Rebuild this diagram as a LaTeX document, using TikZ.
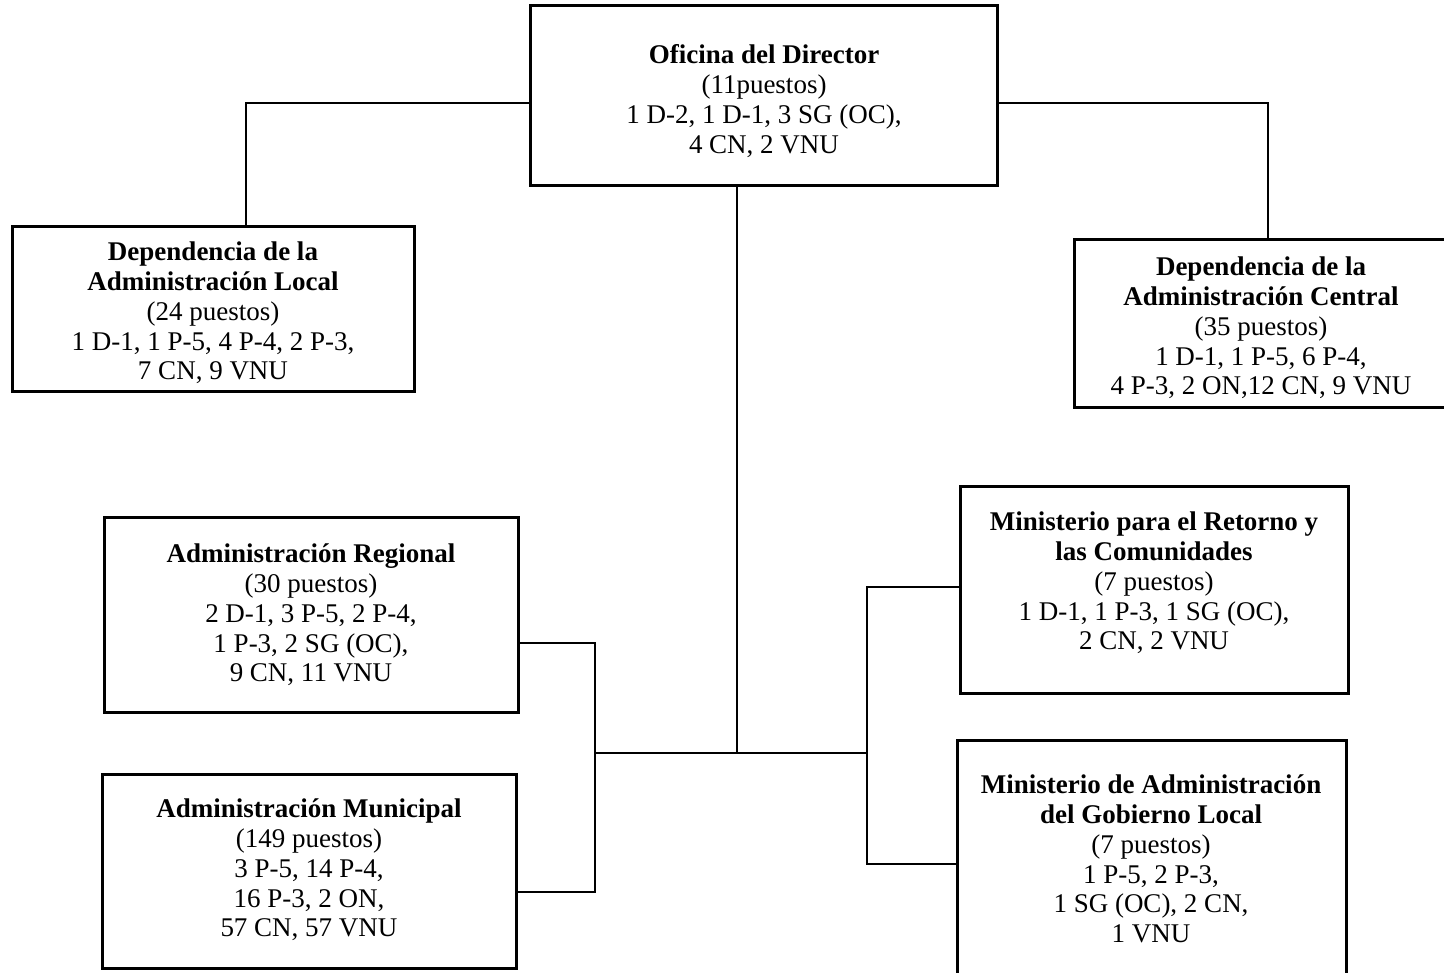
\documentclass[tikz,border=0pt]{standalone}
\usepackage{fontspec}
\setmainfont{Liberation Serif}
\usetikzlibrary{calc}
\begin{document}
\begin{tikzpicture}[x=1pt,y=-1pt,
  box/.style={draw=black, line width=3pt, rectangle, inner sep=0pt},
  txt/.style={align=center, inner sep=0pt, font=\fontsize{27}{29.8}\selectfont},
  conn/.style={draw=black, line width=1.5pt}]
\useasboundingbox (0,0) rectangle (1444,973);
% boxes
\node[box, minimum width=467, minimum height=180] (dir) at (763.5,96) {};
\node[box, minimum width=402, minimum height=165] (local) at (213,309.5) {};
\node[box, minimum width=374, minimum height=168] (central) at (1261,324) {};
\node[box, minimum width=414, minimum height=194] (reg) at (311,615) {};
\node[box, minimum width=414, minimum height=194] (mun) at (309,871) {};
\node[box, minimum width=388, minimum height=206] (ret) at (1154,590) {};
\node[box, minimum width=389, minimum height=236] (gob) at (1151.5,858) {};
% texts
\node[txt] (tdir) at (764,101) {\textbf{Oficina del Director}\\(11puestos)\\1 D-2, 1 D-1, 3 SG (OC),\\4 CN, 2 VNU};
\node[txt] (tlocal) at (213,313) {\textbf{Dependencia de la}\\\textbf{Administración Local}\\(24 puestos)\\1 D-1, 1 P-5, 4 P-4, 2 P-3,\\7 CN, 9 VNU};
\node[txt] (tcentral) at (1261,328) {\textbf{Dependencia de la}\\\textbf{Administración Central}\\(35 puestos)\\1 D-1, 1 P-5, 6 P-4,\\4 P-3, 2 ON,12 CN, 9 VNU};
\node[txt] (treg) at (311,615) {\textbf{Administración Regional}\\(30 puestos)\\2 D-1, 3 P-5, 2 P-4,\\1 P-3, 2 SG (OC),\\9 CN, 11 VNU};
\node[txt] (tmun) at (309,870) {\textbf{Administración Municipal}\\(149 puestos)\\3 P-5, 14 P-4,\\16 P-3, 2 ON,\\57 CN, 57 VNU};
\node[txt] (tret) at (1154,583) {\textbf{Ministerio para el Retorno y}\\\textbf{las Comunidades}\\(7 puestos)\\1 D-1, 1 P-3, 1 SG (OC),\\2 CN, 2 VNU};
\node[txt] (tgob) at (1151,859) {\textbf{Ministerio de Administración}\\\textbf{del Gobierno Local}\\(7 puestos)\\1 P-5, 2 P-3,\\1 SG (OC), 2 CN,\\1 VNU};
% junctions
\coordinate (hub) at (737,753);
\coordinate (jl) at (595,753);
\coordinate (jr) at (867,753);
% connectors
\draw[conn] (dir.west |- 0,103) -| (local.north -| 246,0);
\draw[conn] (dir.east |- 0,103) -| (central.north -| 1268,0);
\draw[conn] (dir.south -| hub) -- (hub);
\draw[conn] (jl) -- (jr);
\draw[conn] (reg.east |- 0,643) -| (jl);
\draw[conn] (mun.east |- 0,892) -| (jl);
\draw[conn] (ret.west |- 0,587) -| (jr);
\draw[conn] (gob.west |- 0,864) -| (jr);
\end{tikzpicture}
\end{document}
